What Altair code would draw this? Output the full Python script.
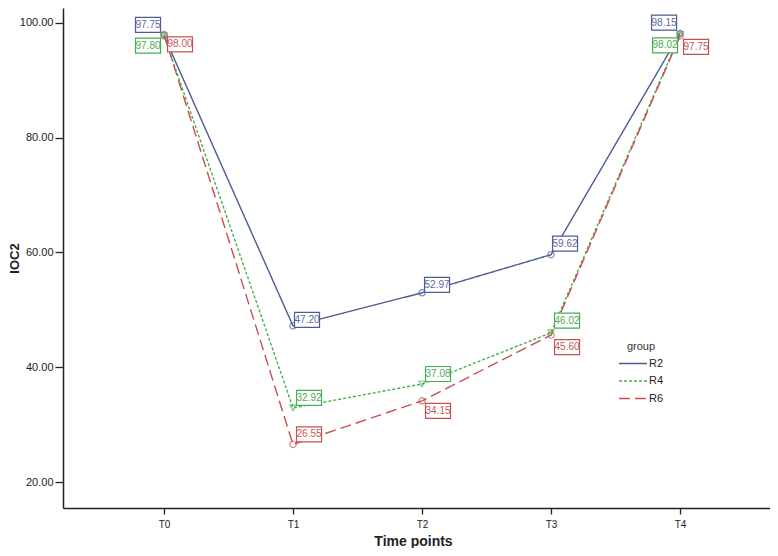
import altair as alt
import pandas as pd

time_points = ["T0", "T1", "T2", "T3", "T4"]
groups = ["R2", "R4", "R6"]
r2_values = [97.75, 47.20, 52.97, 59.62, 98.15]
r4_values = [97.80, 32.92, 37.08, 46.02, 98.02]
r6_values = [98.00, 26.55, 34.15, 45.60, 97.75]
colors = ["#4b5b96", "#45b04f", "#c94f4f"]
text_colors = ["#5b6a9e", "#4fa957", "#c45a5a"]
dashes = [[1, 0], [3, 2], [11, 5]]
shapes = {"R2": "circle", "R4": "triangle-down", "R6": "circle"}

# label box offsets (pixels) relative to each point
label_dx = {"R2": [-16, 14, 15, 14, -16], "R4": [-16, 16, 16, 16, -15], "R6": [16, 16, 16, 16, 16]}
label_dy = {"R2": [-11, -6, -8, -11, -11], "R4": [10, -10, -10, -12, 11], "R6": [10, -10, 10, 12, 11]}

rows = []
for g, vals in zip(groups, [r2_values, r4_values, r6_values]):
    for i, (t, v) in enumerate(zip(time_points, vals)):
        rows.append({"time": t, "group": g, "value": v, "label": f"{v:.2f}",
                     "dx": label_dx[g][i], "dy": label_dy[g][i], "shape": shapes[g]})
df = pd.DataFrame(rows)

xs = alt.Scale(type="point", domain=time_points, padding=0.74, align=0.529)
ys = alt.Scale(domain=[15.47, 102.6], nice=False, zero=False)
cs = alt.Scale(domain=groups, range=colors)
ts = alt.Scale(domain=groups, range=text_colors)

x_enc = alt.X("time:N", scale=xs, sort=time_points, axis=alt.Axis(
    title="Time points", titleFontSize=14, titleFontWeight="bold", titleFont="Liberation Sans",
    titleColor="#222", titleY=33, titleBaseline="middle", titleX=350,
    labelAngle=0, labelFontSize=10, labelFont="Liberation Sans", labelColor="#222",
    labelPadding=5, tickSize=6, tickColor="#222", domainColor="#222",
    domainWidth=1.5, tickWidth=1.3, grid=False))
y_enc = alt.Y("value:Q", scale=ys, axis=alt.Axis(
    title="IOC2", titleFontSize=13, titleFontWeight="bold", titleFont="Liberation Sans",
    titleColor="#222", titleX=-49, titleBaseline="middle",
    values=[20, 40, 60, 80, 100], format=".2f",
    labelFontSize=11, labelFont="Liberation Sans", labelColor="#222", labelPadding=2,
    tickSize=8, tickColor="#222", domainColor="#222", domainWidth=1.5, tickWidth=1.3, grid=False))

legend = alt.Legend(title="group", orient="none", legendX=555, legendY=333,
                    symbolType="stroke", symbolSize=784, symbolStrokeWidth=1.4,
                    titleFontSize=11, titleFontWeight="normal", titleFont="Liberation Sans",
                    titleColor="#333", titleAnchor="middle", titlePadding=4,
                    labelFontSize=11, labelFont="Liberation Sans", labelColor="#222",
                    labelOffset=1, clipHeight=15, rowPadding=2.5)

base = alt.Chart(df)

lines = base.mark_line(strokeWidth=1.4).encode(
    x=x_enc, y=y_enc,
    color=alt.Color("group:N", scale=cs, legend=legend),
    strokeDash=alt.StrokeDash("group:N", scale=alt.Scale(domain=groups, range=dashes), legend=legend),
)

layers = [lines]
for shp in sorted(set(shapes.values())):
    layers.append(base.transform_filter(alt.datum.shape == shp).mark_point(
        filled=False, strokeWidth=1.2, size=40, shape=shp).encode(
        x=x_enc, y=y_enc,
        stroke=alt.Stroke("group:N", scale=cs, legend=None)))

pairs = sorted(set(zip(df["dx"], df["dy"])))
for dx, dy in pairs:
    sub = base.transform_filter(f"datum.dx == {dx} && datum.dy == {dy}")
    layers.append(sub.mark_rect(width=25, height=15, fill="white", strokeWidth=1.2,
                                xOffset=int(dx), yOffset=int(dy)).encode(
        x=x_enc, y=y_enc,
        stroke=alt.Stroke("group:N", scale=cs, legend=None)))
    layers.append(sub.mark_text(fontSize=10, font="Liberation Sans", xOffset=int(dx), yOffset=int(dy),
                                align="center", baseline="middle").encode(
        x=x_enc, y=y_enc, text="label:N",
        fill=alt.Fill("group:N", scale=ts, legend=None)))

chart = alt.layer(*layers).properties(
    width=707, height=500,
    autosize=alt.AutoSizeParams(type="none"),
    padding={"left": 55, "top": 0, "right": 0, "bottom": 40},
    background="white",
).configure_view(stroke=None)

chart.save("out.html", embed_options={"renderer": "svg", "actions": False})
